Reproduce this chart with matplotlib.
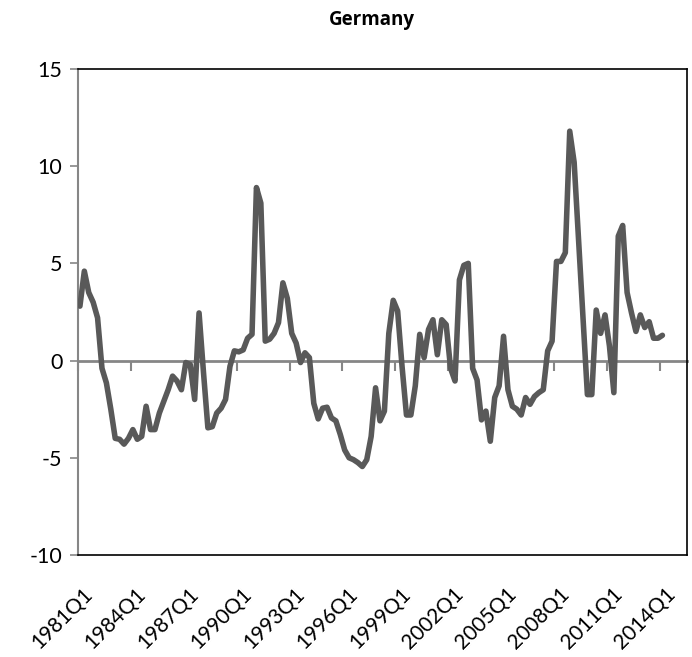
import matplotlib
matplotlib.use("Agg")
import matplotlib.pyplot as plt
import matplotlib.transforms as mtransforms
import numpy as np

# quarterly series, 1981Q1 .. 2014Q1
values = [
    2.8, 4.6, 3.5, 3.0, 2.2, -0.4, -1.15, -2.5, -4.0, -4.05, -4.3, -4.0,
    -3.55, -4.05, -3.9, -2.35, -3.55, -3.55, -2.7, -2.1, -1.5, -0.8, -1.05, -1.5,
    -0.1, -0.2, -2.0, 2.45, -0.6, -3.46, -3.4, -2.7, -2.45, -2.0, -0.3, 0.5,
    0.45, 0.55, 1.15, 1.35, 8.9, 8.1, 1.0, 1.1, 1.4, 1.95, 4.0, 3.2,
    1.4, 0.9, -0.1, 0.4, 0.15, -2.2, -3.0, -2.45, -2.4, -2.95, -3.1, -3.8,
    -4.6, -5.0, -5.1, -5.25, -5.45, -5.1, -3.9, -1.4, -3.1, -2.6, 1.4, 3.1,
    2.55, -0.3, -2.8, -2.8, -1.3, 1.35, 0.15, 1.6, 2.1, 0.3, 2.1, 1.85,
    -0.4, -1.05, 4.15, 4.9, 5.0, -0.4, -1.0, -3.05, -2.6, -4.15, -1.9, -1.3,
    1.25, -1.5, -2.35, -2.5, -2.8, -1.9, -2.25, -1.85, -1.65, -1.5, 0.5, 1.0,
    5.1, 5.1, 5.55, 11.8, 10.2, 6.2, 2.3, -1.75, -1.75, 2.6, 1.4, 2.35,
    0.75, -1.65, 6.4, 6.95, 3.5, 2.45, 1.5, 2.35, 1.7, 2.0, 1.15, 1.15,
    1.3,
]
tick_labels = ["1981Q1", "1984Q1", "1987Q1", "1990Q1", "1993Q1", "1996Q1",
               "1999Q1", "2002Q1", "2005Q1", "2008Q1", "2011Q1", "2014Q1"]
title = "Germany"

n_slots = 138      # category slots on the axis (a few empty at the end)
label_step = 12    # one label every 3 years

plt.rcParams["font.family"] = ["Lato", "DejaVu Sans"]
plt.rcParams["axes.unicode_minus"] = False

fig = plt.figure(figsize=(6.92, 6.57), dpi=100)
ax = fig.add_axes([0.1123, 0.1553, 0.8800, 0.7397])

x = np.arange(len(values))
ax.plot(x, values, color="#595959", lw=4.0, solid_joinstyle="round",
        solid_capstyle="round", zorder=3)

ax.set_xlim(-0.5, n_slots - 0.5)
ax.set_ylim(-10, 15)
ax.set_yticks([-10, -5, 0, 5, 10, 15])
ax.tick_params(axis="y", direction="out", length=6, width=1.2,
               color="#868686", labelsize=15.5, pad=5)

# labels along the bottom, no tick marks there
ax.set_xticks(x[::label_step])
ax.set_xticklabels(tick_labels, rotation=45, ha="right", va="center",
                   rotation_mode="anchor", fontsize=15)
ax.tick_params(axis="x", length=0, pad=26)
offset = mtransforms.ScaledTranslation(10 / 100, 0, fig.dpi_scale_trans)
for lab in ax.get_xticklabels():
    lab.set_transform(lab.get_transform() + offset)

for side in ["top", "right", "bottom"]:
    ax.spines[side].set_color("black")
    ax.spines[side].set_linewidth(1.2)
ax.spines["left"].set_color("#868686")
ax.spines["left"].set_linewidth(1.5)

# category axis crossing at zero, with tick marks between categories
zero_axis = ax.secondary_xaxis(0.4)
zero_axis.set_xticks(np.arange(-0.5, n_slots, label_step))
zero_axis.set_xticklabels([])
zero_axis.tick_params(direction="out", length=7, width=1.5, color="#868686")
zero_axis.spines["bottom"].set_color("#868686")
zero_axis.spines["bottom"].set_linewidth(2)

fig.suptitle(title, x=0.538, y=0.985, fontsize=13.5, fontweight="bold",
             family=["Open Sans", "DejaVu Sans"])

fig.savefig("out.png", dpi=100)
